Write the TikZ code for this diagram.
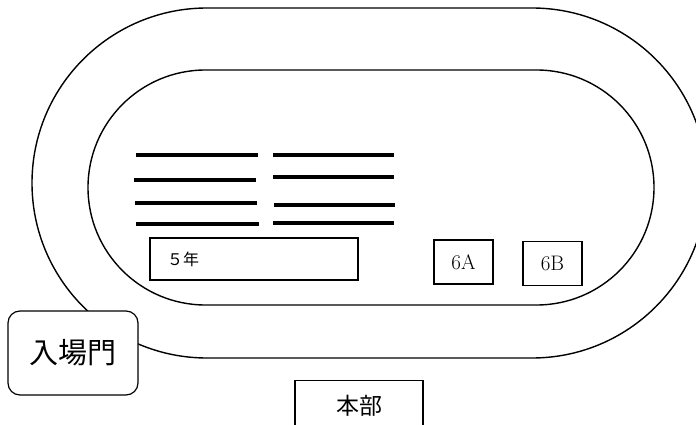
\documentclass[tikz,border=0pt]{standalone}
\usepackage{fontspec}
\newfontfamily\jp{Noto Sans CJK JP}
\begin{document}
\begin{tikzpicture}[x=1pt,y=-1pt,
  track/.style={line width=1.4pt},
  bar/.style={line width=4pt},
  box/.style={draw, line width=1.2pt, inner sep=0pt, fill=white},
  cls/.style={box, minimum width=59pt, minimum height=44pt, font=\fontsize{21}{22}\selectfont}]
\useasboundingbox (0,0) rectangle (696,425);
\clip (0,0) rectangle (696,425);
% outer track
\draw[track] (207,8) -- (532,8) arc[start angle=-90, end angle=90, radius=175]
  -- (207,358) arc[start angle=90, end angle=270, radius=175] -- cycle;
% inner track
\draw[track] (205.5,70) -- (536.5,70) arc[start angle=-90, end angle=90, radius=117.5]
  -- (205.5,305) arc[start angle=90, end angle=270, radius=117.5] -- cycle;
% bars
\draw[bar] (136,154.7) -- (258,154.7);
\draw[bar] (134,180) -- (256,180);
\draw[bar] (135,203.3) -- (257,203.3);
\draw[bar] (136,224) -- (259,224);
\draw[bar] (273,154.7) -- (394,154.7);
\draw[bar] (273,176.7) -- (394,176.7);
\draw[bar] (274,205.3) -- (395,205.3);
\draw[bar] (273,223) -- (394,223);
% boxes
\node[box, minimum height=42pt, text width=174pt, inner xsep=17pt, align=left,
  font=\jp\fontsize{16}{17}\selectfont] (g5) at (254,259) {５年};
\node[cls] (g6a) at (463.5,262) {6A};
\node[cls] (g6b) at (552.5,263.5) {6B};
\node[box, rounded corners=12pt, minimum width=130pt, minimum height=84pt,
  font=\jp\fontsize{29}{30}\selectfont] (gate) at (73,353) {入場門};
\node[box, minimum width=128pt, minimum height=60pt, anchor=north] (hq) at (359,380) {};
\node[font=\jp\fontsize{23}{24}\selectfont] (hqt) at (359,406) {本部};
\end{tikzpicture}
\end{document}
